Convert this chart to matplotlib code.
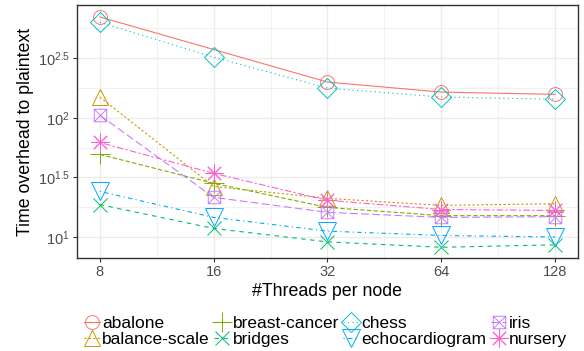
import matplotlib
matplotlib.use("Agg")
import matplotlib.pyplot as plt
import numpy as np
from matplotlib.path import Path
from matplotlib.ticker import NullFormatter

plt.rcParams['font.family'] = ['Liberation Sans', 'DejaVu Sans']
plt.rcParams['mathtext.default'] = 'regular'

# datos
hilos = [8, 16, 32, 64, 128]
nombres = ["abalone", "balance-scale", "breast-cancer", "bridges",
           "chess", "echocardiogram", "iris", "nursery"]
abalone = [700, np.nan, 199, 164, 157]
balance_scale = [149, 26.5, 21.1, 18.4, 19.0]
breast_cancer = [49.3, 28.2, 17.7, 15.1, 15.1]
bridges = [18.7, 11.8, 9.1, 8.2, 8.6]
chess = [631, 322, 177, 149, 143]
echocardiogram = [24.1, 14.6, 11.2, 10.3, 10.0]
iris = [105, 21.5, 16.1, 14.6, 14.8]
nursery = [62, 34.2, 20.3, 17.0, 16.7]
series = [abalone, balance_scale, breast_cancer, bridges,
          chess, echocardiogram, iris, nursery]

colores = ["#F8766D", "#CD9600", "#7CAE00", "#00BE67",
           "#00BFC4", "#00A9FF", "#C77CFF", "#FF61CC"]
# tipos de linea estilo ggplot
lineas = ["-", (0, (2, 2)), (0, (4, 2)), (0, (4, 4)),
          (0, (1, 3)), (0, (1, 3, 4, 3)), (0, (7, 3)), (0, (2, 2, 6, 2))]

# cuadrado con X (shape 7)
cuad_x = Path([(-1, -1), (1, -1), (1, 1), (-1, 1), (-1, -1),
               (-1, -1), (1, 1), (-1, 1), (1, -1)],
              [Path.MOVETO, Path.LINETO, Path.LINETO, Path.LINETO, Path.CLOSEPOLY,
               Path.MOVETO, Path.LINETO, Path.MOVETO, Path.LINETO])
marcadores = ["o", "^", "+", "x", "D", "v", cuad_x, (8, 2, 0)]
tamanos = [10, 12, 14, 9.5, 10, 13.5, 9, 13.5]

fig = plt.figure(figsize=(5.84, 3.51), dpi=100)
ax = fig.add_axes([77/584, 1-258/351, (578-77)/584, (258-5)/351])

x = np.array(hilos, dtype=float)
for nombre, ys, c, ls, m, ms in zip(nombres, series, colores, lineas, marcadores, tamanos):
    ys = np.array(ys, dtype=float)
    ok = ~np.isnan(ys)
    ax.plot(x[ok], ys[ok], color=c, linestyle=ls, linewidth=0.8,
            marker=m, markersize=ms, markerfacecolor="none",
            markeredgecolor=c, markeredgewidth=0.7, label=nombre)

ax.set_xscale("log", base=2)
ax.set_yscale("log")
ax.set_xlim(2**2.8, 2**7.2)
ax.set_ylim(10**0.824, 10**2.945)

ax.set_xticks(hilos)
ax.set_xticklabels([str(h) for h in hilos])
ax.set_xticks([2**3.5, 2**4.5, 2**5.5, 2**6.5], minor=True)
yt = [1, 1.5, 2, 2.5]
ax.set_yticks([10**v for v in yt])
ax.set_yticklabels([r"$10^{%g}$" % v for v in yt])
ax.set_yticks([10**v for v in [1.25, 1.75, 2.25, 2.75]], minor=True)
ax.xaxis.set_minor_formatter(NullFormatter())
ax.yaxis.set_minor_formatter(NullFormatter())
ax.tick_params(which="minor", length=0)
ax.tick_params(which="major", length=3, width=0.8, color="#333333",
               labelsize=10.5, labelcolor="#4D4D4D", pad=2)

ax.grid(True, which="major", color="#EBEBEB", linewidth=0.9)
ax.grid(True, which="minor", color="#EBEBEB", linewidth=0.5)
ax.set_axisbelow(True)
for s in ax.spines.values():
    s.set_color("#333333")
    s.set_linewidth(1.0)

ax.set_xlabel("#Threads per node", fontsize=12.8, labelpad=3)
ax.set_ylabel("Time overhead to plaintext", fontsize=12.8, labelpad=3)

fig.legend(loc="center left", bbox_to_anchor=(84/584, 1-331.5/351), ncol=4,
           frameon=False, fontsize=12.5, handlelength=0.9, handletextpad=0.15,
           columnspacing=0.25, labelspacing=0.0, borderpad=0, borderaxespad=0)

fig.savefig("out.png", dpi=100)
